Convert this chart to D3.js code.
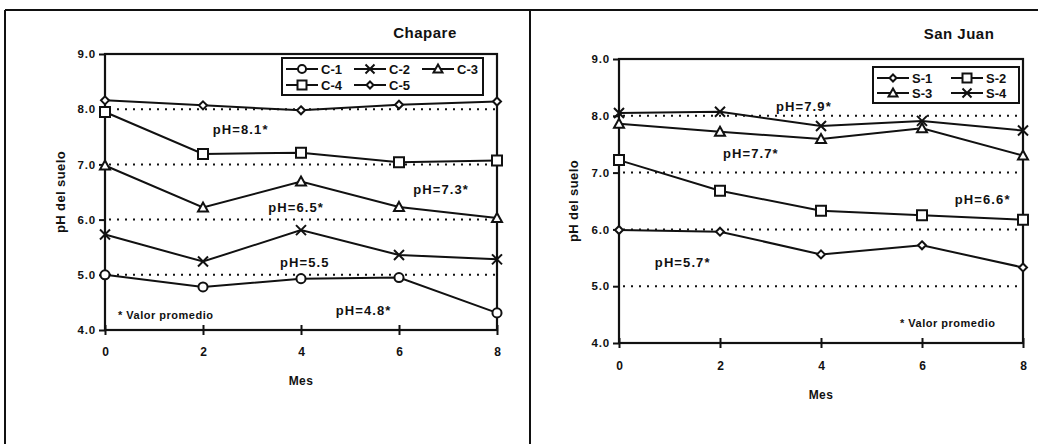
<!DOCTYPE html>
<html>
<head>
<meta charset="utf-8">
<script src="https://cdn.jsdelivr.net/npm/d3@7"></script>
<style>
  html, body { margin: 0; padding: 0; background: #fff; }
  svg { display: block; }
  text { font-family: "Liberation Sans", Arial, sans-serif; font-weight: bold; fill: #111; }
</style>
</head>
<body>
<svg id="chart" width="1038" height="444"></svg>
<script>
// Months of sampling
const months = [0, 2, 4, 6, 8];
const yTicks = [4, 5, 6, 7, 8, 9];
const refLevels = [5, 6, 7, 8];

// Chapare soils
const chapareNames = ["C-1", "C-2", "C-3", "C-4", "C-5"];
const c1 = [5.00, 4.78, 4.93, 4.95, 4.31];
const c2 = [5.73, 5.24, 5.81, 5.36, 5.28];
const c3 = [6.98, 6.22, 6.69, 6.23, 6.03];
const c4 = [7.95, 7.19, 7.21, 7.04, 7.07];
const c5 = [8.16, 8.07, 7.98, 8.08, 8.14];
const chapareSymbols = ["circle", "cross", "triangle", "square", "diamond"];

// San Juan soils
const sanJuanNames = ["S-1", "S-2", "S-3", "S-4"];
const s1 = [5.99, 5.96, 5.56, 5.72, 5.33];
const s2 = [7.22, 6.68, 6.33, 6.25, 6.17];
const s3 = [7.86, 7.72, 7.59, 7.78, 7.30];
const s4 = [8.05, 8.07, 7.82, 7.91, 7.74];
const sanJuanSymbols = ["diamond", "square", "triangle", "cross"];

// Mean-value notes: text, anchor month, anchor pH (text baseline)
const chapareNotes = [
  { text: "pH=8.1*", m: 2.2, v: 7.55 },
  { text: "pH=7.3*", m: 6.29, v: 6.46 },
  { text: "pH=6.5*", m: 3.33, v: 6.14 },
  { text: "pH=5.5", m: 3.57, v: 5.14 },
  { text: "pH=4.8*", m: 4.71, v: 4.27 }
];
const sanJuanNotes = [
  { text: "pH=7.9*", m: 3.11, v: 8.08 },
  { text: "pH=7.7*", m: 2.06, v: 7.26 },
  { text: "pH=6.6*", m: 6.65, v: 6.45 },
  { text: "pH=5.7*", m: 0.71, v: 5.34 }
];

const svg = d3.select("#chart");

// Outer frame of the two panels
svg.append("line").attr("x1", 5).attr("x2", 1038).attr("y1", 10).attr("y2", 10)
  .attr("stroke", "#111").attr("stroke-width", 2);
svg.append("line").attr("x1", 5).attr("x2", 5).attr("y1", 10).attr("y2", 444)
  .attr("stroke", "#111").attr("stroke-width", 2);
svg.append("line").attr("x1", 530).attr("x2", 530).attr("y1", 10).attr("y2", 444)
  .attr("stroke", "#111").attr("stroke-width", 2);

function symbolPath(kind, size) {
  const h = size / 2;
  switch (kind) {
    case "circle": return d3.symbol(d3.symbolCircle, size * size * 0.8)();
    case "square": return `M${-h},${-h}H${h}V${h}H${-h}Z`;
    case "triangle": return `M0,${-h - 1}L${h + 1},${h}L${-h - 1},${h}Z`;
    case "diamond": return `M0,${-h}L${h},0L0,${h}L${-h},0Z`;
    case "cross": return `M${-h},${-h}L${h},${h}M${h},${-h}L${-h},${h}`;
  }
}
const symbolSize = { circle: 9, square: 10, triangle: 8, diamond: 8, cross: 10 };

function panel(cfg) {
  const x = d3.scaleLinear().domain([0, 8]).range([cfg.x0, cfg.x1]);
  const y = d3.scaleLinear().domain([4, 9]).range([cfg.y0, cfg.y1]);
  const g = svg.append("g");

  // Dotted reference lines at whole pH units
  g.selectAll("line.ref").data(refLevels).join("line")
    .attr("class", "ref")
    .attr("x1", x(0) + 4).attr("x2", x(8))
    .attr("y1", d => y(d)).attr("y2", d => y(d))
    .attr("stroke", "#111").attr("stroke-width", 2)
    .attr("stroke-dasharray", "2,6");

  // Plot box
  g.append("rect")
    .attr("x", x(0)).attr("y", y(9))
    .attr("width", x(8) - x(0)).attr("height", y(4) - y(9))
    .attr("fill", "none").attr("stroke", "#111").attr("stroke-width", 2.2);

  // Y axis
  const ya = g.append("g").attr("transform", `translate(${x(0)},0)`)
    .call(d3.axisLeft(y).tickValues(yTicks).tickFormat(d3.format(".1f"))
      .tickSizeInner(6).tickSizeOuter(0).tickPadding(3));
  ya.select(".domain").remove();
  ya.selectAll(".tick line").attr("stroke", "#111").attr("stroke-width", 2);
  ya.selectAll(".tick text").attr("font-size", 11.5).attr("letter-spacing", 0.8)
    .attr("font-family", "Liberation Sans, Arial, sans-serif")
    .attr("font-weight", "bold").attr("fill", "#111");

  // X axis with ticks crossing the line
  const xa = g.append("g").attr("transform", `translate(0,${y(4)})`)
    .call(d3.axisBottom(x).tickValues(months).tickFormat(d3.format("d"))
      .tickSizeInner(5).tickSizeOuter(0).tickPadding(cfg.xPad));
  xa.select(".domain").remove();
  xa.selectAll(".tick line").attr("y1", -5).attr("y2", 5).attr("stroke", "#111").attr("stroke-width", 2);
  xa.selectAll(".tick text").attr("font-size", 12).attr("font-family", "Liberation Sans, Arial, sans-serif")
    .attr("font-weight", "bold").attr("fill", "#111");

  // Axis titles
  g.append("text").attr("x", (x(0) + x(8)) / 2).attr("y", cfg.mesY)
    .attr("text-anchor", "middle").attr("font-size", 12).attr("letter-spacing", 0.4).text("Mes");
  g.append("text")
    .attr("transform", `translate(${cfg.ylabX},${(y(4) + y(9)) / 2}) rotate(-90)`)
    .attr("text-anchor", "middle").attr("font-size", 13).attr("letter-spacing", 0.4)
    .text("pH del suelo");

  // Panel title
  g.append("text").attr("x", cfg.titleX).attr("y", cfg.titleY)
    .attr("text-anchor", "middle").attr("font-size", 15).attr("letter-spacing", 0.5)
    .text(cfg.title);

  // Series
  const line = d3.line().x((d, i) => x(months[i])).y(d => y(d));
  cfg.series.forEach((vals, si) => {
    const sym = cfg.symbols[si];
    g.append("path").datum(vals).attr("d", line)
      .attr("fill", "none").attr("stroke", "#111").attr("stroke-width", 2);
    g.selectAll(null).data(vals).join("path")
      .attr("transform", (d, i) => `translate(${x(months[i])},${y(d)})`)
      .attr("d", symbolPath(sym, symbolSize[sym]))
      .attr("fill", sym === "cross" ? "none" : "#fff")
      .attr("stroke", "#111").attr("stroke-width", 2);
  });

  // Mean-value notes
  g.selectAll("text.note").data(cfg.notes).join("text")
    .attr("class", "note")
    .attr("x", d => x(d.m)).attr("y", d => y(d.v))
    .attr("font-size", 13).attr("letter-spacing", 1.1).text(d => d.text);
  g.append("text").attr("x", cfg.footX).attr("y", cfg.footY)
    .attr("font-size", 11).attr("letter-spacing", 0.5).text("* Valor promedio");

  // Legend
  const L = cfg.legend;
  g.append("rect").attr("x", L.x).attr("y", L.y).attr("width", L.w).attr("height", L.h)
    .attr("fill", "#fff").attr("stroke", "#111").attr("stroke-width", 2);
  cfg.names.forEach((name, i) => {
    const col = i % L.cols, row = Math.floor(i / L.cols);
    const ix = L.x + 4 + col * L.colW;
    const iy = L.y + 11 + row * L.rowH;
    const sym = cfg.symbols[i];
    g.append("line").attr("x1", ix).attr("x2", ix + 32).attr("y1", iy).attr("y2", iy)
      .attr("stroke", "#111").attr("stroke-width", 2);
    g.append("path").attr("transform", `translate(${ix + 16},${iy})`)
      .attr("d", symbolPath(sym, symbolSize[sym] - 1))
      .attr("fill", sym === "cross" ? "none" : "#fff")
      .attr("stroke", "#111").attr("stroke-width", 2);
    g.append("text").attr("x", ix + 35).attr("y", iy + 4.5)
      .attr("font-size", 13).text(name);
  });
}

panel({
  title: "Chapare", titleX: 425, titleY: 38,
  x0: 105, x1: 497, y0: 330, y1: 54,
  xPad: 12, mesY: 385, ylabX: 65,
  series: [c1, c2, c3, c4, c5], symbols: chapareSymbols, names: chapareNames,
  notes: chapareNotes, footX: 118, footY: 319,
  legend: { x: 282, y: 58, w: 201, h: 37, cols: 3, colW: 68, rowH: 16 }
});

panel({
  title: "San Juan", titleX: 959, titleY: 39,
  x0: 619, x1: 1023, y0: 343, y1: 59,
  xPad: 13, mesY: 399, ylabX: 578,
  series: [s1, s2, s3, s4], symbols: sanJuanSymbols, names: sanJuanNames,
  notes: sanJuanNotes, footX: 900, footY: 327,
  legend: { x: 873, y: 67, w: 146, h: 36, cols: 2, colW: 74, rowH: 15 }
});
</script>
</body>
</html>
